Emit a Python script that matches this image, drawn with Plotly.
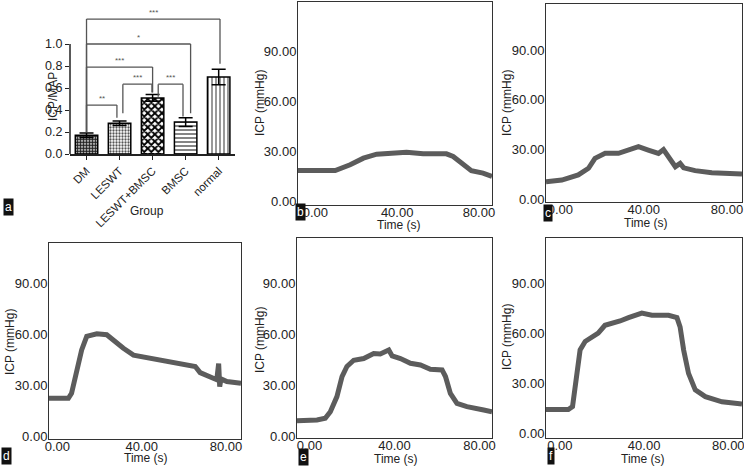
import plotly.graph_objects as go

FONT = "Liberation Sans, Arial, sans-serif"
W, H = 744, 466

# ---------------- Panel a data ----------------
groups = ["DM", "LESWT", "LESWT+BMSC", "BMSC", "normal"]
icp_map = [0.17, 0.28, 0.51, 0.29, 0.70]
icp_map_err = [0.02, 0.02, 0.03, 0.04, 0.07]
patterns = [".", ".", "x", "-", "|"]

# significance brackets: (x_left, x_right, level, left_leg_bottom, right_leg_bottom, label)
bracket_x0 = [0.0, 1.10, 2.17, 0.0, 0.0, 0.0]
bracket_x1 = [0.92, 1.98, 2.92, 2.0, 3.15, 4.04]
bracket_level = [0.445, 0.635, 0.635, 0.79, 1.0, 1.227]
bracket_lbot = [0.20, 0.37, 0.52, 0.20, 0.20, 0.20]
bracket_rbot = [0.33, 0.56, 0.34, 0.56, 0.37, 0.82]
bracket_label = ["**", "***", "***", "***", "*", "***"]

# ---------------- ICP traces (Time s, ICP mmHg) ----------------
t_b = [-8.5, 9.7, 17.0, 23.5, 30.0, 39.8, 44.6, 52.7, 64.1, 67.4, 72.2, 76.3, 82.0, 86.4]
v_b = [18.5, 18.5, 22.0, 26.0, 28.4, 29.0, 29.6, 28.6, 28.6, 27.0, 22.0, 18.5, 17.0, 15.0]

t_c = [-6.9, 0.7, 8.6, 13.5, 16.6, 21.5, 27.9, 32.7, 37.5, 42.2, 47.1, 49.5, 51.9, 55.2, 57.5, 59.2, 64.7, 72.7, 87.2]
v_c = [10.6, 11.6, 14.7, 18.7, 24.7, 27.7, 27.7, 29.7, 31.7, 29.7, 27.7, 30.0, 25.7, 19.7, 21.7, 19.0, 17.3, 16.0, 15.3]

t_d = [-4.0, 5.2, 6.7, 9.1, 11.5, 13.9, 18.7, 23.4, 27.3, 31.3, 36.1, 42.4, 51.9, 61.5, 65.4, 67.7, 72.5,
       75.6, 76.5, 77.0, 77.6, 80.4, 87.1]
v_d = [22.6, 22.6, 25.5, 39.0, 51.0, 59.0, 60.5, 60.0, 56.0, 52.0, 48.0, 46.6, 44.6, 42.2, 41.3, 37.7, 34.8,
       33.5, 43.0, 29.5, 34.0, 32.4, 31.4]

t_e = [-5.9, 3.5, 7.4, 9.8, 12.9, 15.3, 17.6, 20.8, 25.5, 30.2, 33.3, 37.3, 38.9, 42.8, 47.5, 52.2, 56.9,
       62.4, 64.0, 66.3, 69.4, 74.1, 82.0, 85.9]
v_e = [9.4, 9.8, 10.8, 14.7, 23.6, 35.4, 41.3, 45.0, 46.0, 49.0, 48.7, 51.0, 47.5, 46.0, 43.2, 42.2, 39.7,
       39.3, 35.4, 25.5, 19.6, 17.7, 15.7, 14.7]

t_f = [-6.6, 4.0, 6.0, 7.2, 8.5, 9.6, 12.0, 15.2, 18.2, 21.4, 24.6, 28.6, 32.6, 38.9, 43.7, 51.6, 55.6,
       57.1, 58.8, 61.1, 64.3, 69.1, 77.0, 86.5]
v_f = [14.3, 14.3, 16.0, 26.0, 40.0, 50.0, 55.0, 58.0, 60.0, 64.7, 65.7, 67.3, 69.3, 72.0, 70.7, 70.7, 69.3,
       63.7, 49.8, 35.9, 26.0, 22.0, 18.9, 17.5]

icp_ticks = [0, 30, 60, 90]
time_ticks = [0, 40, 80]

fig = go.Figure()


def px_dom_x(l, r):
    return [l / W, r / W]


def px_dom_y(top, bot):
    return [1 - bot / H, 1 - top / H]


def paper_text(text, cx, cy, size=12, angle=0):
    return dict(x=cx / W, y=1 - cy / H, xref="paper", yref="paper", text=text, showarrow=False,
                textangle=angle, xanchor="center", yanchor="middle",
                font=dict(size=size, family=FONT, color="#222"))


# ---------------- Panel a ----------------
fig.add_trace(go.Bar(
    x=groups, y=icp_map,
    error_y=dict(type="data", array=icp_map_err, color="black", thickness=1.5, width=7),
    marker=dict(color="white", line=dict(color="black", width=1.5),
                pattern=dict(shape=patterns, fgcolor=["#222", "#555", "#000", "#333", "#333"],
                             bgcolor="white", size=[3, 3, 5, 4, 4],
                             solidity=[0.7, 0.45, 0.6, 0.3, 0.25])),
    xaxis="x", yaxis="y", showlegend=False, width=0.68,
))

layout = dict(
    template="none",
    width=W, height=H, margin=dict(l=0, r=0, t=0, b=0, autoexpand=False),
    paper_bgcolor="white", plot_bgcolor="white",
    font=dict(family=FONT, color="#222"),
    showlegend=False,
)

layout["xaxis"] = dict(domain=px_dom_x(70, 235.2), anchor="y", type="category", automargin=False,
                       range=[-0.5, 4.5], showline=True, linecolor="#222", linewidth=1.5,
                       showgrid=False, zeroline=False,
                       ticks="outside", ticklen=4, tickcolor="#222", tickangle=-45,
                       tickfont=dict(size=11.5, family=FONT))
layout["yaxis"] = dict(domain=px_dom_y(0, 154), anchor="x", range=[0, 1.4], automargin=False,
                       showline=False, showgrid=False, zeroline=False,
                       tickvals=[0, 0.2, 0.4, 0.6, 0.8, 1.0], tickformat=".1f",
                       ticks="outside", ticklen=4, tickcolor="#222",
                       tickfont=dict(size=12.5, family=FONT))

shapes = [dict(type="line", xref="x domain", yref="y", x0=0, x1=0, y0=0, y1=1.0,
               line=dict(color="#222", width=1.5))]
annotations = [paper_text("ICP/MAP", 53, 97, 12, -90), paper_text("Group", 147, 211, 12)]
for x0, x1, lv, lb, rb, lab in zip(bracket_x0, bracket_x1, bracket_level, bracket_lbot, bracket_rbot, bracket_label):
    for (xa, ya, xb, yb) in [(x0, lb, x0, lv), (x0, lv, x1, lv), (x1, lv, x1, rb)]:
        shapes.append(dict(type="line", xref="x", yref="y", x0=xa, y0=ya, x1=xb, y1=yb,
                           line=dict(color="#555", width=1.3)))
    annotations.append(dict(x=(x0 + x1) / 2, y=lv, xref="x", yref="y", text=lab, showarrow=False,
                            yanchor="bottom", yshift=0, font=dict(size=8, color="#555", family=FONT)))

# ---------------- ICP panels ----------------
# name, times, values, x px span, y px span, x range, y range, time-title centre, icp-title centre
panels = [
    ("b", t_b, v_b, (298, 492), (2, 205), [-8.5, 86.4], [-2.2, 120], (399, 225), (260, 103)),
    ("c", t_c, v_c, (546, 742), (4, 202), [-6.9, 87.2], [-1.6, 117.7], (646, 223), (507, 103)),
    ("d", t_d, v_d, (49, 241), (243, 439), [-4.0, 87.1], [-1.4, 114], (146, 458), (10, 342)),
    ("e", t_e, v_e, (297, 492), (238, 438), [-5.9, 85.9], [-0.8, 117], (396, 459), (260, 340)),
    ("f", t_f, v_f, (546, 742), (238, 438), [-6.6, 86.5], [-2.8, 117], (643, 459), (507, 337)),
]
for i, (name, tt, vv, xd, yd, xr, yr, tpos, ipos) in enumerate(panels):
    n = i + 2
    xa, ya = f"x{n}", f"y{n}"
    fig.add_trace(go.Scatter(x=tt, y=vv, mode="lines", xaxis=xa, yaxis=ya,
                             line=dict(color="#5c5c5c", width=5), showlegend=False))
    layout[f"xaxis{n}"] = dict(domain=px_dom_x(*xd), anchor=ya, range=xr, automargin=False,
                               showline=True, mirror=True, linecolor="#333", linewidth=1,
                               showgrid=False, zeroline=False, ticks="",
                               tickvals=time_ticks, tickformat=".2f", ticklabelstandoff=-5,
                               ticklabeloverflow="allow",
                               tickfont=dict(size=13, family=FONT))
    layout[f"yaxis{n}"] = dict(domain=px_dom_y(*yd), anchor=xa, range=yr, automargin=False,
                               showline=True, mirror=True, linecolor="#333", linewidth=1,
                               showgrid=False, zeroline=False, ticks="",
                               tickvals=icp_ticks, tickformat=".2f", ticklabelstandoff=-2,
                               ticklabeloverflow="allow",
                               tickfont=dict(size=13, family=FONT))
    annotations.append(paper_text("Time (s)", tpos[0], tpos[1], 12))
    annotations.append(paper_text("ICP (mmHg)", ipos[0], ipos[1], 12, -90))

# panel letters
letters = [("a", 8, 207), ("b", 300, 212), ("c", 548, 213), ("d", 6, 456), ("e", 303, 457), ("f", 551, 456)]
for lab, cx, cy in letters:
    annotations.append(dict(x=cx / W, y=1 - cy / H, xref="paper", yref="paper", text=lab,
                            showarrow=False, bgcolor="#111", borderpad=1,
                            font=dict(size=12, color="white", family=FONT),
                            xanchor="center", yanchor="middle"))

layout["shapes"] = shapes
layout["annotations"] = annotations
fig.update_layout(**layout)
fig.write_html("out.html", config={"displayModeBar": False},
               post_script="document.body.style.margin='0';")
